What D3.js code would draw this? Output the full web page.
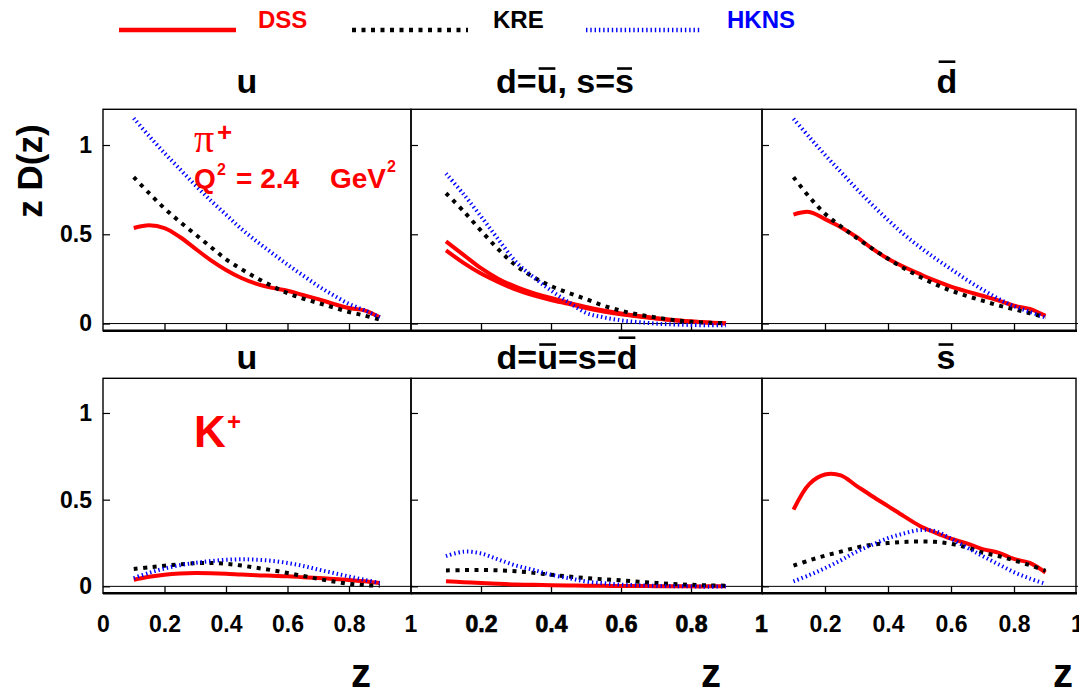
<!DOCTYPE html>
<html><head><meta charset="utf-8">
<script src="https://cdn.jsdelivr.net/npm/d3@7"></script>
<style>
body{margin:0;background:#fff}
text{font-family:"Liberation Sans",Arial,sans-serif;font-weight:bold}
</style>
</head><body>
<svg id="c" width="1079" height="688"></svg>
<script>
// ---------------- data ----------------
const zGrid = [0.1,0.15,0.2,0.25,0.3,0.35,0.4,0.45,0.5,0.55,0.6,0.65,0.7,0.75,0.8,0.85,0.9];
const seriesNames = ["DSS","KRE","HKNS"];

// pi+ , u
const piU_DSS  = [0.535,0.55,0.535,0.485,0.42,0.355,0.30,0.255,0.222,0.20,0.184,0.16,0.137,0.11,0.087,0.074,0.035];
const piU_KRE  = [0.82,0.73,0.645,0.57,0.50,0.43,0.36,0.305,0.255,0.21,0.17,0.14,0.115,0.09,0.065,0.045,0.022];
const piU_HKNS = [1.15,1.05,0.955,0.865,0.775,0.69,0.61,0.53,0.46,0.395,0.33,0.27,0.21,0.158,0.11,0.075,0.035];
// pi+ , d = ubar , s = sbar
const piUnf_DSS_d = [0.46,0.385,0.31,0.25,0.205,0.17,0.143,0.117,0.093,0.073,0.056,0.042,0.03,0.02,0.012,0.006,0.002];
const piUnf_DSS_s = [0.41,0.34,0.28,0.232,0.19,0.158,0.132,0.11,0.087,0.068,0.052,0.039,0.028,0.019,0.011,0.005,0.001];
const piUnf_KRE   = [0.73,0.63,0.52,0.415,0.325,0.26,0.21,0.172,0.137,0.1,0.072,0.05,0.034,0.02,0.01,0.005,0.002];
const piUnf_HKNS  = [0.84,0.725,0.6,0.47,0.345,0.26,0.185,0.12,0.06,0.035,0.018,0.008,0.0,-0.005,-0.008,-0.01,-0.01];
// pi+ , dbar
const piDbar_DSS  = [0.61,0.625,0.585,0.54,0.485,0.42,0.363,0.318,0.278,0.24,0.207,0.18,0.156,0.13,0.1,0.082,0.043];
const piDbar_KRE  = [0.82,0.71,0.615,0.545,0.48,0.42,0.363,0.31,0.263,0.22,0.184,0.155,0.128,0.102,0.08,0.058,0.034];
const piDbar_HKNS = [1.147,1.045,0.945,0.85,0.755,0.665,0.58,0.5,0.43,0.365,0.305,0.245,0.19,0.14,0.097,0.066,0.034];
// K+ , u
const kU_DSS  = [0.038,0.055,0.067,0.074,0.077,0.076,0.073,0.068,0.064,0.061,0.058,0.053,0.048,0.043,0.037,0.029,0.019];
const kU_KRE  = [0.1,0.11,0.119,0.127,0.133,0.135,0.13,0.12,0.107,0.093,0.077,0.06,0.043,0.028,0.015,0.007,0.003];
const kU_HKNS = [0.048,0.078,0.103,0.122,0.136,0.146,0.153,0.156,0.154,0.147,0.135,0.118,0.097,0.077,0.057,0.038,0.02];
// K+ , d = ubar = s = dbar
const kUnf_DSS  = [0.029,0.024,0.019,0.015,0.011,0.009,0.007,0.005,0.004,0.003,0.002,0.002,0.001,0.001,0,0,0];
const kUnf_KRE  = [0.092,0.094,0.095,0.092,0.087,0.078,0.067,0.057,0.048,0.041,0.035,0.027,0.02,0.014,0.009,0.006,0.004];
const kUnf_HKNS = [0.175,0.2,0.19,0.155,0.12,0.095,0.067,0.048,0.028,0.018,0.01,0.006,0.003,0.001,0,-0.002,0];
// K+ , sbar
const kSbar_DSS  = [0.442,0.59,0.645,0.64,0.58,0.52,0.463,0.405,0.35,0.31,0.275,0.248,0.215,0.195,0.158,0.135,0.08];
const kSbar_KRE  = [0.119,0.15,0.177,0.2,0.224,0.24,0.25,0.256,0.259,0.257,0.245,0.225,0.195,0.175,0.15,0.122,0.09];
const kSbar_HKNS = [0.029,0.065,0.105,0.15,0.2,0.24,0.278,0.305,0.325,0.318,0.275,0.225,0.175,0.128,0.082,0.045,0.015];

const xTickValues = [0,0.2,0.4,0.6,0.8,1];
const xTickLabels = ["0","0.2","0.4","0.6","0.8","1"];
const yTickValues = [0,0.5,1];
const yTickLabels = ["0","0.5","1"];

// ---------------- layout / styles ----------------
const styles = {
  DSS:  {stroke:"#ff0000", width:4,   dash:null},
  KRE:  {stroke:"#000000", width:4,   dash:"4,5.5"},
  HKNS: {stroke:"#0000ff", width:4,   dash:"1.4,2.9"}
};
const cols = [{x0:103,x1:410.5,right:411},{x0:411,x1:761,right:762},{x0:762,x1:1077,right:1076}];
const rows = [{top:109.3,bottom:330.7,titleY:93},{top:378.3,bottom:593.3,titleY:369}];
const yDomain = [-0.04,1.2];

const panels = [
  {r:0,c:0,tx:247,title:[{t:"u"}], lines:[["DSS",piU_DSS],["KRE",piU_KRE],["HKNS",piU_HKNS]]},
  {r:0,c:1,tx:565,title:[{t:"d="},{t:"u",bar:1},{t:", s="},{t:"s",bar:1}], lines:[["DSS",piUnf_DSS_d],["DSS",piUnf_DSS_s],["KRE",piUnf_KRE],["HKNS",piUnf_HKNS]]},
  {r:0,c:2,tx:947,title:[{t:"d",bar:2}], lines:[["DSS",piDbar_DSS],["KRE",piDbar_KRE],["HKNS",piDbar_HKNS]]},
  {r:1,c:0,tx:247,title:[{t:"u"}], lines:[["DSS",kU_DSS],["KRE",kU_KRE],["HKNS",kU_HKNS]]},
  {r:1,c:1,tx:567,title:[{t:"d="},{t:"u",bar:1},{t:"=s="},{t:"d",bar:2}], lines:[["DSS",kUnf_DSS],["KRE",kUnf_KRE],["HKNS",kUnf_HKNS]]},
  {r:1,c:2,tx:946,title:[{t:"s",bar:1}], lines:[["DSS",kSbar_DSS],["KRE",kSbar_KRE],["HKNS",kSbar_HKNS]]}
];
const zLabelX = [361,711,1063];

const svg = d3.select("#c");

// ---------------- legend ----------------
const legend = [
  {name:"DSS", x1:119, x2:236, tx:258, color:"#ff0000"},
  {name:"KRE", x1:352, x2:468, tx:493, color:"#000000"},
  {name:"HKNS",x1:586, x2:702, tx:727, color:"#0000ff"}
];
legend.forEach(l=>{
  const s = styles[l.name];
  svg.append("line").attr("x1",l.x1).attr("x2",l.x2).attr("y1",30).attr("y2",30)
    .attr("stroke",s.stroke).attr("stroke-width",4.5)
    .attr("stroke-dasharray",s.dash);
  svg.append("text").attr("x",l.tx).attr("y",28.3).style("font-size","24px")
    .attr("fill",l.color).text(l.name);
});

// ---------------- panels ----------------
const lineGen = (x,y)=> d3.line().x((d,i)=>x(zGrid[i])).y(d=>y(d)).curve(d3.curveCatmullRom.alpha(0.5));

panels.forEach(p=>{
  const col = cols[p.c], row = rows[p.r];
  const x = d3.scaleLinear([0,1],[col.x0,col.x1]);
  const y = d3.scaleLinear(yDomain,[row.bottom,row.top]);
  const g = svg.append("g");

  // frame
  g.append("rect").attr("x",col.x0).attr("y",row.top).attr("width",col.right-col.x0)
    .attr("height",row.bottom-row.top).attr("fill","none").attr("stroke","#000").attr("stroke-width",1.4);
  g.append("line").attr("x1",col.x0).attr("x2",col.right+1).attr("y1",row.bottom).attr("y2",row.bottom)
    .attr("stroke","#000").attr("stroke-width",2.4);
  // zero line
  g.append("line").attr("x1",col.x0).attr("x2",col.right+2).attr("y1",y(0)).attr("y2",y(0))
    .attr("stroke","#000").attr("stroke-width",1);

  // x ticks (inside, from bottom up to zero line)
  const xa = g.append("g").attr("transform",`translate(0,${row.bottom})`)
    .call(d3.axisBottom(x).tickValues([0.2,0.4,0.6,0.8]).tickSize(-(row.bottom-y(0))).tickFormat(""));
  xa.select(".domain").remove();
  xa.selectAll("line").attr("stroke-width",1.3);

  // y ticks (inside)
  const ya = g.append("g").attr("transform",`translate(${col.x0},0)`)
    .call(d3.axisLeft(y).tickValues(yTickValues).tickSize(-7).tickPadding(11)
      .tickFormat((d,i)=> p.c===0 ? yTickLabels[i] : ""));
  ya.select(".domain").remove();
  ya.selectAll("line").attr("stroke-width",1.2);
  ya.selectAll("text").style("font-size","23px").style("font-family",'"Liberation Sans",Arial,sans-serif')
    .style("font-weight","bold").attr("fill","#000");

  // x tick labels (bottom row only)
  if(p.r===1){
    const vals = p.c===0 ? xTickValues : xTickValues.slice(1);
    const labs = p.c===0 ? xTickLabels : xTickLabels.slice(1);
    const xl = g.append("g").attr("transform",`translate(0,${row.bottom})`)
      .call(d3.axisBottom(x).tickValues(vals).tickSize(0).tickFormat((d,i)=>labs[i]));
    xl.select(".domain").remove();
    xl.selectAll("text").attr("y",39).attr("dy",null).style("font-size","23px")
      .style("font-family",'"Liberation Sans",Arial,sans-serif').style("font-weight","bold").attr("fill","#000")
      .attr("stroke", p.c===1 ? "#000" : null).attr("stroke-width", p.c===1 ? 0.7 : null);
    svg.append("text").attr("x",zLabelX[p.c]).attr("y",687).attr("text-anchor","middle")
      .style("font-size","40px").text("z");
  }

  // curves
  const lg = lineGen(x,y);
  p.lines.forEach(([name,vals])=>{
    const s = styles[name];
    g.append("path").attr("d",lg(vals)).attr("fill","none").attr("stroke",s.stroke)
      .attr("stroke-width",s.width).attr("stroke-dasharray",s.dash);
  });

  // title
  const fs = 34;
  const t = svg.append("text").attr("x",p.tx).attr("y",row.titleY).attr("text-anchor","middle")
    .style("font-size",fs+"px");
  p.title.forEach(s=>t.append("tspan").text(s.t));
  let idx = 0;
  p.title.forEach(s=>{
    if(s.bar){
      for(let i=0;i<s.t.length;i++){
        const e = t.node().getExtentOfChar(idx+i);
        const yy = row.titleY - (s.bar===2 ? 0.92 : 0.72)*fs;
        svg.append("line").attr("x1",e.x+0.06*fs).attr("x2",e.x+e.width-0.06*fs)
          .attr("y1",yy).attr("y2",yy).attr("stroke","#000").attr("stroke-width",2.6);
      }
    }
    idx += s.t.length;
  });
});

// ---------------- annotations ----------------
svg.append("text").attr("transform","translate(42,171) rotate(-90)").attr("text-anchor","middle")
  .style("font-size","35px").text("z D(z)");

const red = "#ff0000";
svg.append("text").attr("x",194).attr("y",152).style("font-family",'"Liberation Serif","DejaVu Serif",serif')
  .style("font-weight","normal").style("font-size","40px").attr("fill",red).text("π");
svg.append("text").attr("x",217).attr("y",141).style("font-size","26px").attr("fill",red).text("+");

const q = svg.append("g").attr("fill",red);
q.append("text").attr("x",194).attr("y",188).style("font-size","28px").text("Q");
q.append("text").attr("x",217).attr("y",175).style("font-size","16px").text("2");
q.append("text").attr("x",236).attr("y",188).style("font-size","28px").text("= 2.4");
q.append("text").attr("x",330).attr("y",188).style("font-size","28px").text("GeV");
q.append("text").attr("x",387).attr("y",172).style("font-size","16px").text("2");

svg.append("text").attr("x",194).attr("y",447).style("font-size","44px").attr("fill",red).text("K");
svg.append("text").attr("x",227).attr("y",430).style("font-size","24px").attr("fill",red).text("+");
</script>
</body></html>
